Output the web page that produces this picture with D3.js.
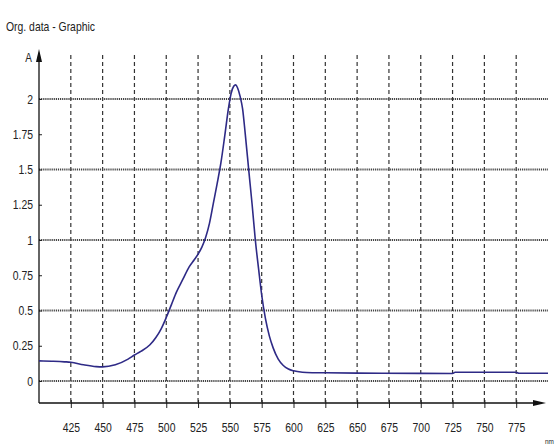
<!DOCTYPE html>
<html>
<head>
<meta charset="utf-8">
<script src="https://cdn.jsdelivr.net/npm/d3@7"></script>
<style>
  body { margin: 0; background: #fff; }
  svg text { font-family: "Liberation Sans", Arial, sans-serif; fill: #222; }
</style>
</head>
<body>
<svg width="557" height="446"></svg>
<script>
// spectrum: wavelength (nm) and absorbance (A)
const wavelength = [400, 410, 420, 425, 435, 445, 450, 460, 470, 475, 480, 487, 492, 496, 500, 504, 508, 513, 518, 522, 525,
  528, 531, 534, 537, 540, 543, 546, 549, 551, 553, 554.5, 556, 558, 560, 562, 565, 567.5, 570, 572.5, 575, 578, 581, 584,
  588, 592, 596, 600, 607, 615, 625, 650, 700, 725, 727, 775, 777, 800];
const absorbance = [0.143, 0.140, 0.136, 0.133, 0.115, 0.102, 0.100, 0.115, 0.155, 0.184, 0.210, 0.255, 0.31, 0.37, 0.45, 0.54, 0.63, 0.72, 0.81, 0.86, 0.90,
  0.95, 1.02, 1.12, 1.26, 1.40, 1.55, 1.74, 1.94, 2.04, 2.09, 2.10, 2.08, 2.02, 1.93, 1.76, 1.48, 1.25, 1.0, 0.80, 0.61, 0.44, 0.32, 0.235,
  0.155, 0.11, 0.085, 0.072, 0.062, 0.059, 0.058, 0.056, 0.054, 0.053, 0.062, 0.062, 0.055, 0.055];
const xTicks = [425, 450, 475, 500, 525, 550, 575, 600, 625, 650, 675, 700, 725, 750, 775];
const yTicks = [0, 0.25, 0.5, 0.75, 1, 1.25, 1.5, 1.75, 2];
const yGrid = [0, 0.5, 1, 1.5, 2];

let svg = d3.select('svg');
let data = wavelength.map((w, i) => ({w: w, a: absorbance[i]}));

let xScale = d3.scaleLinear().domain([400, 800]).range([39, 548]);
let yScale = d3.scaleLinear().domain([-0.156, 2.312]).range([403, 55]);

let x0 = xScale(400), yBase = yScale.range()[0];
let narrow = 'scale(0.8,1)';

// title and axis units
svg.append('text').attr('transform', 'translate(6,31) ' + narrow).attr('font-size', 13).text('Org. data - Graphic');
svg.append('text').attr('transform', 'translate(32,62) ' + narrow).attr('font-size', 12.5).attr('text-anchor', 'end').text('A');
svg.append('text').attr('transform', 'translate(545,444) ' + narrow).attr('font-size', 8).text('nm');

// grid
svg.selectAll('.vgrid')
  .data(xTicks)
  .enter().append('line')
  .attr('class', 'vgrid')
  .attr('x1', d => xScale(d)).attr('x2', d => xScale(d))
  .attr('y1', yScale.range()[1]).attr('y2', yBase)
  .attr('stroke', '#333').attr('stroke-width', 1.2)
  .attr('stroke-dasharray', '4,3');

svg.selectAll('.hgrid')
  .data(yGrid)
  .enter().append('line')
  .attr('class', 'hgrid')
  .attr('x1', x0).attr('x2', xScale(800))
  .attr('y1', d => yScale(d)).attr('y2', d => yScale(d))
  .attr('stroke', '#444').attr('stroke-width', 2)
  .attr('stroke-dasharray', '1.2,0.9');

// axes
let xAxis = d3.axisBottom(xScale).tickValues(xTicks).tickSize(5).tickSizeOuter(0).tickFormat(d3.format('d'));
let gx = svg.append('g')
  .attr('transform', 'translate(0,' + yBase + ')')
  .call(xAxis);
gx.select('.domain').remove();
gx.selectAll('.tick line').attr('stroke', '#222').attr('y1', -3);
gx.selectAll('.tick text').attr('font-size', 13).attr('y', 0).attr('dy', 0)
  .attr('transform', 'translate(0,29) ' + narrow).attr('fill', '#222');

let yAxis = d3.axisLeft(yScale).tickValues(yTicks).tickSize(3).tickFormat(d => d);
let gy = svg.append('g')
  .attr('transform', 'translate(' + x0 + ',0)')
  .call(yAxis);
gy.select('.domain').remove();
gy.selectAll('.tick line').attr('stroke', '#222').attr('x2', 3);
gy.selectAll('.tick text').attr('font-size', 13).attr('x', 0)
  .attr('transform', 'translate(-6,0) ' + narrow).attr('fill', '#222');

// axis lines with arrows
svg.append('line').attr('x1', x0).attr('x2', x0).attr('y1', yBase).attr('y2', 58)
  .attr('stroke', '#111').attr('stroke-width', 1.3);
svg.append('path').attr('d', `M${x0},49 L${x0 - 3},62 L${x0 + 3},62 Z`).attr('fill', '#111');
svg.append('line').attr('x1', x0).attr('x2', 538).attr('y1', yBase).attr('y2', yBase)
  .attr('stroke', '#111').attr('stroke-width', 1.3);
svg.append('path').attr('d', `M546,${yBase} L533,${yBase - 3} L533,${yBase + 3} Z`).attr('fill', '#111');

// spectrum
let line = d3.line()
  .x(d => xScale(d.w))
  .y(d => yScale(d.a))
  .curve(d3.curveMonotoneX);

svg.append('path')
  .datum(data)
  .attr('d', line)
  .attr('fill', 'none')
  .attr('stroke', '#2e2a86')
  .attr('stroke-width', 1.6);
</script>
</body>
</html>
